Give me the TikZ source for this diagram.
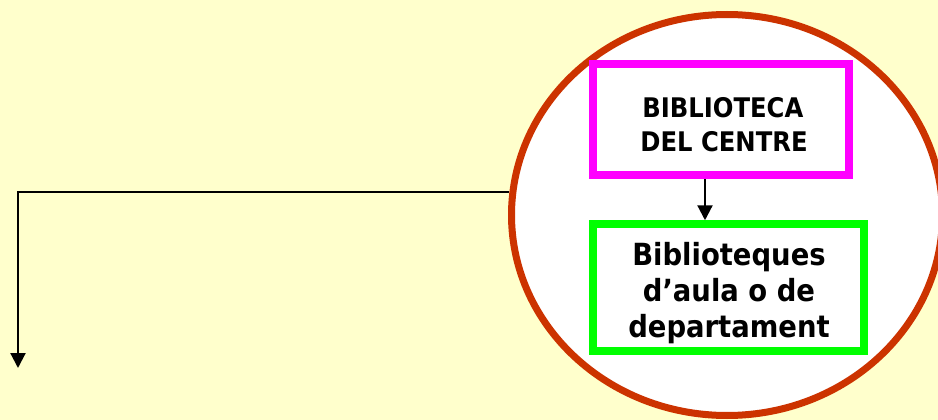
\documentclass[tikz,border=0pt]{standalone}
\usepackage{fontspec}
\setmainfont{DejaVu Sans Condensed}
\usetikzlibrary{shapes.geometric,arrows.meta}
\definecolor{bgyellow}{HTML}{FFFFCC}
\definecolor{ringred}{HTML}{CC3300}
\definecolor{boxmag}{HTML}{FF00FF}
\definecolor{boxgreen}{HTML}{00FF00}
\tikzset{
  conn/.style={draw=black, line width=2.2pt, -{Triangle[width=15pt,length=15pt]}},
  box/.style={draw, line width=7.5pt, fill=white, inner sep=0pt},
  boxtext/.style={inner sep=0pt, font=\bfseries},
}
\begin{document}
\begin{tikzpicture}[x=1pt,y=-1pt]
\fill[bgyellow] (0,0) rectangle (938,420);
\useasboundingbox (0,0) rectangle (938,420);
\begin{scope}
\clip (0,0) rectangle (938,420);
\node[ellipse, draw=ringred, line width=7pt, fill=white, minimum width=431pt, minimum height=401pt, inner sep=0pt] (ring) at (727,215) {};
\end{scope}
\node[box, draw=boxmag, minimum width=256pt, minimum height=111pt] (lib) at (721,119.5) {};
\node[boxtext, align=left, font=\bfseries\fontsize{27}{34}\selectfont] (libtext) at (724,125) {\hspace*{2pt}BIBLIOTECA\\DEL CENTRE};
\node[box, draw=boxgreen, minimum width=271pt, minimum height=127pt] (aula) at (728.5,287.5) {};
\node[boxtext, align=center, font=\bfseries\fontsize{30.5}{36}\selectfont] (aulatext) at (729,293) {Biblioteques\\d’aula o de\\departament};
\draw[conn] (lib.south -| 705,0) -- (aula.north -| 705,0);
\coordinate (tip) at (18,368);
\draw[conn] (ring.174) -| (tip);
\end{tikzpicture}
\end{document}
